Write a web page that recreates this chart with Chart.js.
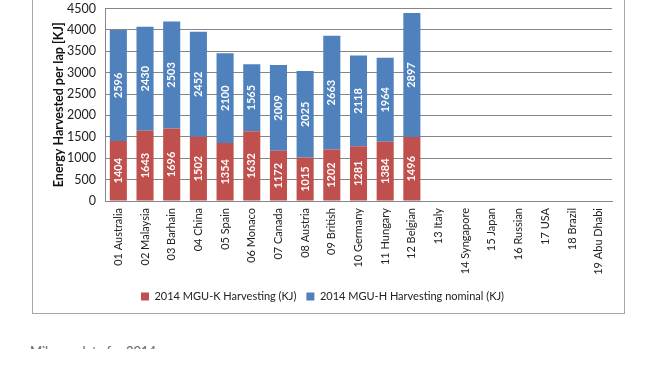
<!DOCTYPE html>
<html>
<head>
<meta charset="utf-8">
<script src="https://cdn.jsdelivr.net/npm/chart.js@4"></script>
<style>
  body { margin: 0; background: #fff; width: 650px; height: 366px; overflow: hidden; position: relative; font-family: Lato, sans-serif; }
  #box { position: absolute; left: 32px; top: -10px; width: 591px; height: 322px; border: 1px solid #a6a6a6; }
  #wrap { position: absolute; left: 33px; top: -8px; width: 591px; height: 320px; }
  #note { position: absolute; left: 30px; top: 344px; height: 5px; overflow: hidden; font-size: 13px; line-height: 14px; color: #666; }
</style>
</head>
<body>
<div id="box"></div>
<div id="wrap"><canvas id="chart"></canvas></div>
<div id="note">Mileage data for 2014</div>
<script>
const races = ['01 Australia', '02 Malaysia', '03 Barhain', '04 China', '05 Spain', '06 Monaco',
  '07 Canada', '08 Austria', '09 British', '10 Germany', '11 Hungary', '12 Belgian', '13 Italy',
  '14 Syngapore', '15 Japan', '16 Russian', '17 USA', '18 Brazil', '19 Abu Dhabi'];
const mguK = [1404, 1643, 1696, 1502, 1354, 1632, 1172, 1015, 1202, 1281, 1384, 1496];
const mguH = [2596, 2430, 2503, 2452, 2100, 1565, 2009, 2025, 2663, 2118, 1964, 2897];
const yTicks = [0, 500, 1000, 1500, 2000, 2500, 3000, 3500, 4000, 4500];

// white rotated value labels inside each bar segment
const barLabels = {
  id: 'barLabels',
  afterDatasetsDraw(chart) {
    const ctx = chart.ctx;
    ctx.save();
    ctx.fillStyle = '#fff';
    ctx.font = 'bold 11px Lato';
    ctx.textAlign = 'center';
    ctx.textBaseline = 'middle';
    chart.data.datasets.forEach((ds, i) => {
      chart.getDatasetMeta(i).data.forEach((bar, j) => {
        if (ds.data[j] == null) return;
        const { x, y, base } = bar.getProps(['x', 'y', 'base'], true);
        ctx.save();
        ctx.translate(x, (y + base) / 2);
        ctx.rotate(-Math.PI / 2);
        ctx.fillText(ds.data[j], 0, 0);
        ctx.restore();
      });
    });
    ctx.restore();
  }
};

new Chart(document.getElementById('chart'), {
  type: 'bar',
  data: {
    labels: races,
    datasets: [
      { label: '2014 MGU-K Harvesting (KJ)', data: mguK, backgroundColor: '#C0504D', barPercentage: 0.64, categoryPercentage: 1 },
      { label: '2014 MGU-H Harvesting nominal (KJ)', data: mguH, backgroundColor: '#4F81BD', barPercentage: 0.64, categoryPercentage: 1 }
    ]
  },
  options: {
    responsive: true,
    maintainAspectRatio: false,
    animation: false,
    layout: { padding: { top: 1, right: 12, left: 0, bottom: 0 } },
    plugins: {
      tooltip: { enabled: false },
      legend: {
        position: 'bottom',
        labels: { boxWidth: 8, boxHeight: 8, font: { size: 11, family: 'Lato' }, color: '#222', padding: 10 }
      }
    },
    scales: {
      x: {
        stacked: true,
        grid: { display: false, drawTicks: false },
        border: { color: '#868686' },
        ticks: { minRotation: 90, maxRotation: 90, autoSkip: false, padding: 7, color: '#222', font: { size: 11, family: 'Lato' } },
        afterFit: (axis) => { axis.height = 80; }
      },
      y: {
        stacked: true,
        min: 0,
        max: 4500,
        afterBuildTicks: (axis) => { axis.ticks = yTicks.map(v => ({ value: v })); },
        grid: { color: '#868686', drawTicks: false },
        border: { color: '#868686' },
        ticks: { padding: 9, color: '#222', font: { size: 12.5, family: 'Lato' }, callback: (v) => String(v) },
        title: { display: true, text: 'Energy Harvested per lap [KJ]', color: '#111', font: { size: 12.5, weight: 'bold', family: 'Lato' }, padding: { top: 18, bottom: 0 } },
        afterFit: (axis) => { axis.width = 72; }
      }
    }
  },
  plugins: [barLabels]
});
</script>
</body>
</html>
